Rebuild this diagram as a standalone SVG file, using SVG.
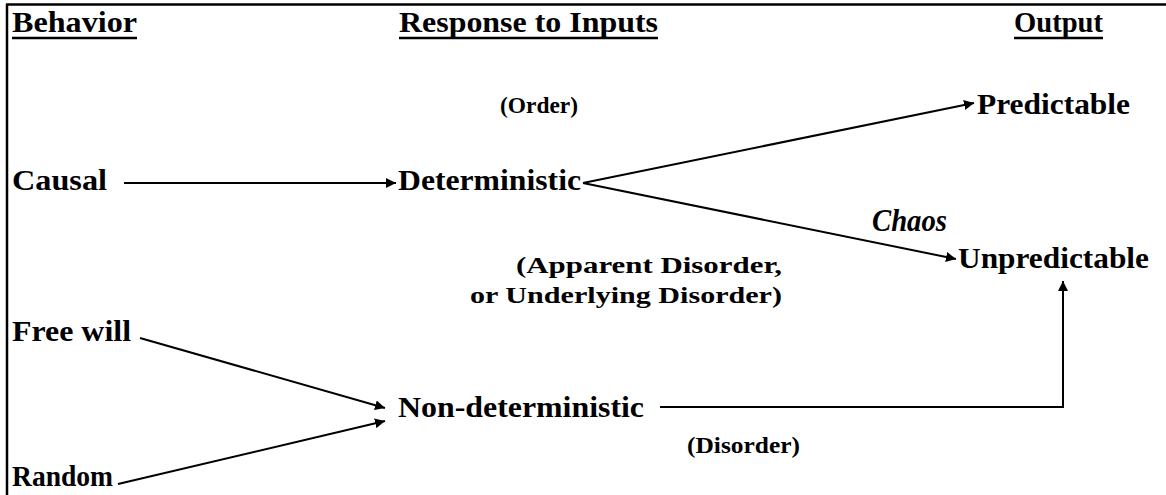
<svg xmlns="http://www.w3.org/2000/svg" width="1166" height="495" viewBox="0 0 1166 495">
<style>
text{font-family:'Liberation Serif','Times New Roman',Times,serif;font-weight:700;fill:#000}
.m{font-size:30px}
.s{font-size:23px}
.c{stroke:#000;stroke-width:2;fill:none}
.u{stroke:#000;stroke-width:2.5}
</style>
<defs>
<marker id="ah" viewBox="0 0 10 10" refX="10" refY="5" markerWidth="10" markerHeight="10" markerUnits="userSpaceOnUse" orient="auto">
<path d="M0,0 L10,5 L0,10 Z" fill="#000"/>
</marker>
</defs>
<rect width="1166" height="495" fill="#fff"/>
<path d="M6,4.5 H1166 M7,4 V495" stroke="#000" stroke-width="2.5" fill="none"/>
<g id="headers">
<g id="h-behavior"><text class="m" x="12" y="32" textLength="125" lengthAdjust="spacingAndGlyphs">Behavior</text><line class="u" x1="12" y1="38" x2="137" y2="38"/></g>
<g id="h-response"><text class="m" x="399" y="32" textLength="259" lengthAdjust="spacingAndGlyphs">Response to Inputs</text><line class="u" x1="399" y1="38" x2="658" y2="38"/></g>
<g id="h-output"><text class="m" x="1014" y="32" textLength="89" lengthAdjust="spacingAndGlyphs">Output</text><line class="u" x1="1014" y1="38" x2="1103" y2="38"/></g>
</g>
<g id="connectors">
<line class="c" x1="124" y1="183" x2="396" y2="183" marker-end="url(#ah)"/>
<line class="c" x1="583" y1="183" x2="974" y2="103" marker-end="url(#ah)"/>
<line class="c" x1="583" y1="183" x2="956" y2="259" marker-end="url(#ah)"/>
<line class="c" x1="140" y1="338" x2="385" y2="408" marker-end="url(#ah)"/>
<line class="c" x1="118" y1="484" x2="385" y2="421" marker-end="url(#ah)"/>
<polyline class="c" points="660,407 1063,407 1063,281" marker-end="url(#ah)"/>
</g>
<g id="labels">
<text class="s" x="500" y="113" textLength="78" lengthAdjust="spacingAndGlyphs">(Order)</text>
<text x="872" y="231" font-size="31" font-style="italic" textLength="75" lengthAdjust="spacingAndGlyphs">Chaos</text>
<text class="s" x="516" y="273" textLength="266" lengthAdjust="spacingAndGlyphs">(Apparent Disorder,</text>
<text class="s" x="470" y="303" textLength="312" lengthAdjust="spacingAndGlyphs">or Underlying Disorder)</text>
<text class="s" x="687" y="453" textLength="113" lengthAdjust="spacingAndGlyphs">(Disorder)</text>
</g>
<g id="n-causal"><text class="m" x="12" y="190" textLength="95" lengthAdjust="spacingAndGlyphs">Causal</text></g>
<g id="n-deterministic"><text class="m" x="398" y="190" textLength="183" lengthAdjust="spacingAndGlyphs">Deterministic</text></g>
<g id="n-predictable"><text class="m" x="977" y="114" textLength="153" lengthAdjust="spacingAndGlyphs">Predictable</text></g>
<g id="n-unpredictable"><text class="m" x="958" y="268" textLength="191" lengthAdjust="spacingAndGlyphs">Unpredictable</text></g>
<g id="n-freewill"><text class="m" x="12" y="341" textLength="119" lengthAdjust="spacingAndGlyphs">Free will</text></g>
<g id="n-nondet"><text class="m" x="398" y="417" textLength="246" lengthAdjust="spacingAndGlyphs">Non-deterministic</text></g>
<g id="n-random"><text class="m" x="12" y="486" textLength="101" lengthAdjust="spacingAndGlyphs">Random</text></g>
</svg>
